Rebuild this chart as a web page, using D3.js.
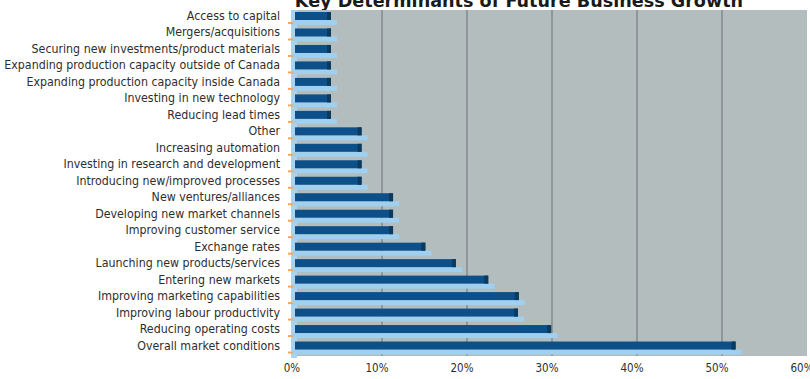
<!DOCTYPE html>
<html lang="en">
  <head>
    <meta charset="UTF-8" />
    <title>Key Determinants of Future Business Growth</title>
    <script src="https://d3js.org/d3.v7.min.js"></script>
    <style>
      body {
        margin: 0;
        background: #ffffff;
      }
      svg {
        display: block;
      }
      .label {
        font-family: "DejaVu Sans Condensed", "Liberation Sans Narrow", sans-serif;
        font-size: 12.3px;
        fill: #2e2e2e;
      }
      .tick {
        font-family: "DejaVu Sans Condensed", "Liberation Sans Narrow", sans-serif;
        font-size: 11.5px;
        fill: #2e2e2e;
      }
    </style>
  </head>
  <body>
    <script>
      const w = 810;
      const h = 379;

      const categories = [
        "Access to capital",
        "Mergers/acquisitions",
        "Securing new investments/product materials",
        "Expanding production capacity outside of Canada",
        "Expanding production capacity inside Canada",
        "Investing in new technology",
        "Reducing lead times",
        "Other",
        "Increasing automation",
        "Investing in research and development",
        "Introducing new/improved processes",
        "New ventures/alliances",
        "Developing new market channels",
        "Improving customer service",
        "Exchange rates",
        "Launching new products/services",
        "Entering new markets",
        "Improving marketing capabilities",
        "Improving labour productivity",
        "Reducing operating costs",
        "Overall market conditions",
      ];
      const values = [
        4.0, 4.0, 4.0, 4.0, 4.0, 4.0, 4.0, 7.6, 7.6, 7.6, 7.6, 11.3, 11.3, 11.3,
        15.1, 18.7, 22.5, 26.1, 26.0, 29.9, 51.6,
      ];
      const tickValues = [0, 10, 20, 30, 40, 50, 60];

      const data = categories.map((c, i) => ({ name: c, value: values[i] }));

      const svg = d3
        .select("body")
        .append("svg")
        .attr("width", w)
        .attr("height", h);

      const x = d3.scaleLinear().domain([0, 60]).range([297, 807]);
      const y = d3
        .scaleBand()
        .domain(categories)
        .range([10, 356])
        .paddingInner(0)
        .paddingOuter(0);

      // title, cut off by the top edge like in the scan
      svg
        .append("text")
        .attr("x", 519)
        .attr("y", 7)
        .attr("text-anchor", "middle")
        .style("font-family", "DejaVu Sans, sans-serif")
        .style("font-weight", "bold")
        .style("font-size", "17.6px")
        .style("fill", "#1a1a1a")
        .text("Key Determinants of Future Business Growth");

      // plot background
      svg
        .append("rect")
        .attr("x", x(0))
        .attr("y", 10)
        .attr("width", x(60) - x(0))
        .attr("height", 346)
        .attr("fill", "#b4bdbe");

      // gridlines
      svg
        .append("g")
        .selectAll("line")
        .data(tickValues.slice(1, -1))
        .join("line")
        .attr("x1", (d) => x(d))
        .attr("x2", (d) => x(d))
        .attr("y1", 10)
        .attr("y2", 356)
        .attr("stroke", "#838b8f")
        .attr("stroke-width", 1.5);

      // left light blue strip
      svg
        .append("rect")
        .attr("x", x(0) - 6)
        .attr("y", 10)
        .attr("width", 6)
        .attr("height", 348)
        .attr("fill", "#a9d4ef");

      const bars = svg.append("g");
      // light blue underside
      bars
        .selectAll("rect.under")
        .data(data)
        .join("rect")
        .attr("class", "under")
        .attr("x", x(0) - 4)
        .attr("y", (d) => y(d.name) + 10)
        .attr("width", (d) => x(d.value) - x(0) + 10)
        .attr("height", 5)
        .attr("fill", "#9fd0f0");
      // dark blue bar
      bars
        .selectAll("rect.bar")
        .data(data)
        .join("rect")
        .attr("class", "bar")
        .attr("x", x(0) - 2)
        .attr("y", (d) => y(d.name) + 2)
        .attr("width", (d) => x(d.value) - x(0) + 2)
        .attr("height", 8)
        .attr("fill", "#0d4f88");
      // dark end caps
      bars
        .selectAll("rect.cap")
        .data(data)
        .join("rect")
        .attr("class", "cap")
        .attr("x", (d) => x(d.value) - 4)
        .attr("y", (d) => y(d.name) + 2)
        .attr("width", 4)
        .attr("height", 8)
        .attr("fill", "#0a3a5e");

      // small orange marks at the left
      svg
        .append("g")
        .selectAll("line")
        .data(data)
        .join("line")
        .attr("x1", x(0) - 9)
        .attr("x2", x(0) - 4)
        .attr("y1", (d) => y(d.name) + 13)
        .attr("y2", (d) => y(d.name) + 13)
        .attr("stroke", "#f0a860")
        .attr("stroke-width", 2);

      // category labels
      svg
        .append("g")
        .selectAll("text")
        .data(data)
        .join("text")
        .attr("class", "label")
        .attr("x", 280)
        .attr("y", (d) => y(d.name) + 10)
        .attr("text-anchor", "end")
        .text((d) => d.name);

      // x tick labels
      svg
        .append("g")
        .selectAll("text")
        .data(tickValues)
        .join("text")
        .attr("class", "tick")
        .attr("x", (d) => x(d) - 5)
        .attr("y", 372)
        .attr("text-anchor", "middle")
        .text((d) => d + "%");
    </script>
  </body>
</html>
